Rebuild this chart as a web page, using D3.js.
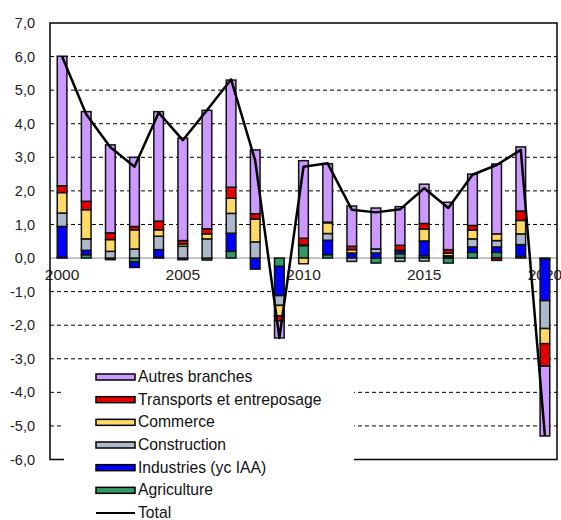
<!DOCTYPE html>
<html>
<head>
<meta charset="utf-8">
<script src="https://cdn.jsdelivr.net/npm/d3@7"></script>
<style>
  html, body { margin: 0; padding: 0; background: #fff; }
  svg { display: block; font-family: "Liberation Sans", Arial, sans-serif; }
</style>
</head>
<body>
<svg id="chart" width="561" height="520"></svg>
<script>
// Contributions à la croissance par branche (points), 2000-2020
const years = d3.range(2000, 2021);
const agriculture  = [0.02, 0.10, -0.05, -0.12, 0.02, -0.05, -0.06, 0.20, 0.00, -0.25, 0.37, 0.10, 0.00, -0.15, 0.13, 0.07, -0.15, 0.17, 0.17, 0.05, -0.03];
const industries   = [0.92, 0.13, 0.00, -0.16, 0.23, 0.00, 0.00, 0.54, -0.33, -0.87, 0.02, 0.43, 0.15, 0.15, 0.08, 0.44, 0.03, 0.16, 0.16, 0.35, -1.24];
const construction = [0.40, 0.34, 0.20, 0.27, 0.40, 0.35, 0.57, 0.59, 0.48, -0.29, 0.00, 0.20, -0.10, 0.12, -0.10, -0.09, 0.04, 0.24, 0.19, 0.32, -0.83];
const commerce     = [0.61, 0.87, 0.35, 0.57, 0.19, 0.07, 0.15, 0.45, 0.68, -0.31, -0.17, 0.32, 0.10, 0.00, 0.02, 0.35, 0.08, 0.26, 0.20, 0.40, -0.45];
const transports   = [0.20, 0.25, 0.20, 0.10, 0.26, 0.10, 0.15, 0.33, 0.16, -0.15, 0.20, 0.02, 0.10, 0.00, 0.15, 0.17, 0.10, 0.14, -0.07, 0.28, -0.67];
const autres       = [3.86, 2.67, 2.62, 2.06, 3.26, 3.05, 3.53, 3.19, 1.90, -0.51, 2.31, 1.74, 1.20, 1.22, 1.15, 1.17, 1.41, 1.53, 2.08, 1.91, -2.08];
const total        = [6.00, 4.28, 3.30, 2.72, 4.33, 3.51, 4.40, 5.32, 2.90, -2.38, 2.72, 2.82, 1.44, 1.36, 1.45, 2.08, 1.49, 2.48, 2.77, 3.22, -5.30];

const yTicks = d3.range(-6, 8);
const xLabels = [2000, 2005, 2010, 2015, 2020];

const seriesDefs = [
  { key: "Agriculture", values: agriculture, color: "#339966" },
  { key: "Industries (yc IAA)", values: industries, color: "#0000FF" },
  { key: "Construction", values: construction, color: "#ADB9CA" },
  { key: "Commerce", values: commerce, color: "#FFD966" },
  { key: "Transports et entreposage", values: transports, color: "#E60000" },
  { key: "Autres branches", values: autres, color: "#CC99FF" }
];

const rows = years.map((yr, i) => {
  const r = { year: yr };
  seriesDefs.forEach(s => { r[s.key] = s.values[i]; });
  return r;
});

const frame = { left: 50, right: 557, top: 23, bottom: 459.5 };
const svg = d3.select("#chart");

const x = d3.scaleBand()
  .domain(years)
  .range([frame.left, frame.right])
  .paddingInner(0.6)
  .paddingOuter(0.3);

const y = d3.scaleLinear()
  .domain([-6, 7])
  .range([frame.bottom, frame.top]);

const fr = d3.formatLocale({ decimal: ",", thousands: " ", grouping: [3], currency: ["", " €"], minus: "-" });
const fmt = fr.format(".1f");

// dashed gridlines
svg.append("g")
  .selectAll("line")
  .data(yTicks.filter(v => v !== 0 && v !== 7 && v !== -6))
  .join("line")
  .attr("x1", frame.left).attr("x2", frame.right)
  .attr("y1", d => y(d)).attr("y2", d => y(d))
  .attr("stroke", "#000").attr("stroke-width", 1)
  .attr("stroke-dasharray", "4,3");

// zero line
svg.append("line")
  .attr("x1", frame.left).attr("x2", frame.right)
  .attr("y1", y(0)).attr("y2", y(0))
  .attr("stroke", "#8c8c8c").attr("stroke-width", 1);

// y axis labels
const yAxis = svg.append("g")
  .attr("transform", `translate(${frame.left},0)`)
  .call(d3.axisLeft(y).tickValues(yTicks).tickFormat(fmt).tickSize(0).tickPadding(15));
yAxis.select(".domain").remove();
yAxis.selectAll("text")
  .attr("font-size", 14.5)
  .attr("font-family", "Liberation Sans, Arial, sans-serif")
  .attr("fill", "#222");

// x axis labels
const xAxis = svg.append("g")
  .attr("transform", `translate(0,${y(0)})`)
  .call(d3.axisBottom(x).tickValues(xLabels).tickSize(0).tickPadding(11));
xAxis.select(".domain").remove();
xAxis.selectAll("text")
  .attr("font-size", 15.5)
  .attr("font-family", "Liberation Sans, Arial, sans-serif")
  .attr("fill", "#222");

// stacked bars
const stack = d3.stack()
  .keys(seriesDefs.map(s => s.key))
  .offset(d3.stackOffsetDiverging);
const stacked = stack(rows);

svg.append("g")
  .selectAll("g")
  .data(stacked)
  .join("g")
  .attr("fill", (d, i) => seriesDefs[i].color)
  .selectAll("rect")
  .data(d => d.filter(p => p[1] - p[0] !== 0))
  .join("rect")
  .attr("x", d => x(d.data.year))
  .attr("width", x.bandwidth())
  .attr("y", d => y(Math.max(d[0], d[1])))
  .attr("height", d => Math.abs(y(d[0]) - y(d[1])))
  .attr("stroke", "#111")
  .attr("stroke-width", 1.5);

// total line
const line = d3.line()
  .x((d, i) => x(years[i]) + x.bandwidth() / 2)
  .y(d => y(d));
svg.append("path")
  .datum(total)
  .attr("d", line)
  .attr("fill", "none")
  .attr("stroke", "#000")
  .attr("stroke-width", 2.5)
  .attr("stroke-linejoin", "round");

// plot frame
svg.append("rect")
  .attr("x", frame.left).attr("y", frame.top)
  .attr("width", frame.right - frame.left)
  .attr("height", frame.bottom - frame.top)
  .attr("fill", "none")
  .attr("stroke", "#000")
  .attr("stroke-width", 1.5);

// legend
const legend = svg.append("g");
legend.append("rect")
  .attr("x", 64).attr("y", 364)
  .attr("width", 290).attr("height", 160)
  .attr("fill", "#fff");

const legendItems = seriesDefs.slice().reverse().concat([{ key: "Total", line: true }]);
const rowY = d3.scalePoint().domain(legendItems.map(d => d.key)).range([377, 513]);

const li = legend.selectAll("g.item")
  .data(legendItems)
  .join("g")
  .attr("class", "item")
  .attr("transform", d => `translate(96,${rowY(d.key)})`);

li.filter(d => !d.line).append("rect")
  .attr("x", 0).attr("y", -3)
  .attr("width", 39).attr("height", 6)
  .attr("fill", d => d.color)
  .attr("stroke", "#000")
  .attr("stroke-width", 1.5);

li.filter(d => d.line).append("line")
  .attr("x1", 0).attr("x2", 39)
  .attr("y1", 0).attr("y2", 0)
  .attr("stroke", "#000")
  .attr("stroke-width", 2);

li.append("text")
  .attr("x", 42).attr("y", 5)
  .attr("font-size", 15.7)
  .attr("fill", "#111")
  .text(d => d.key);
</script>
</body>
</html>
